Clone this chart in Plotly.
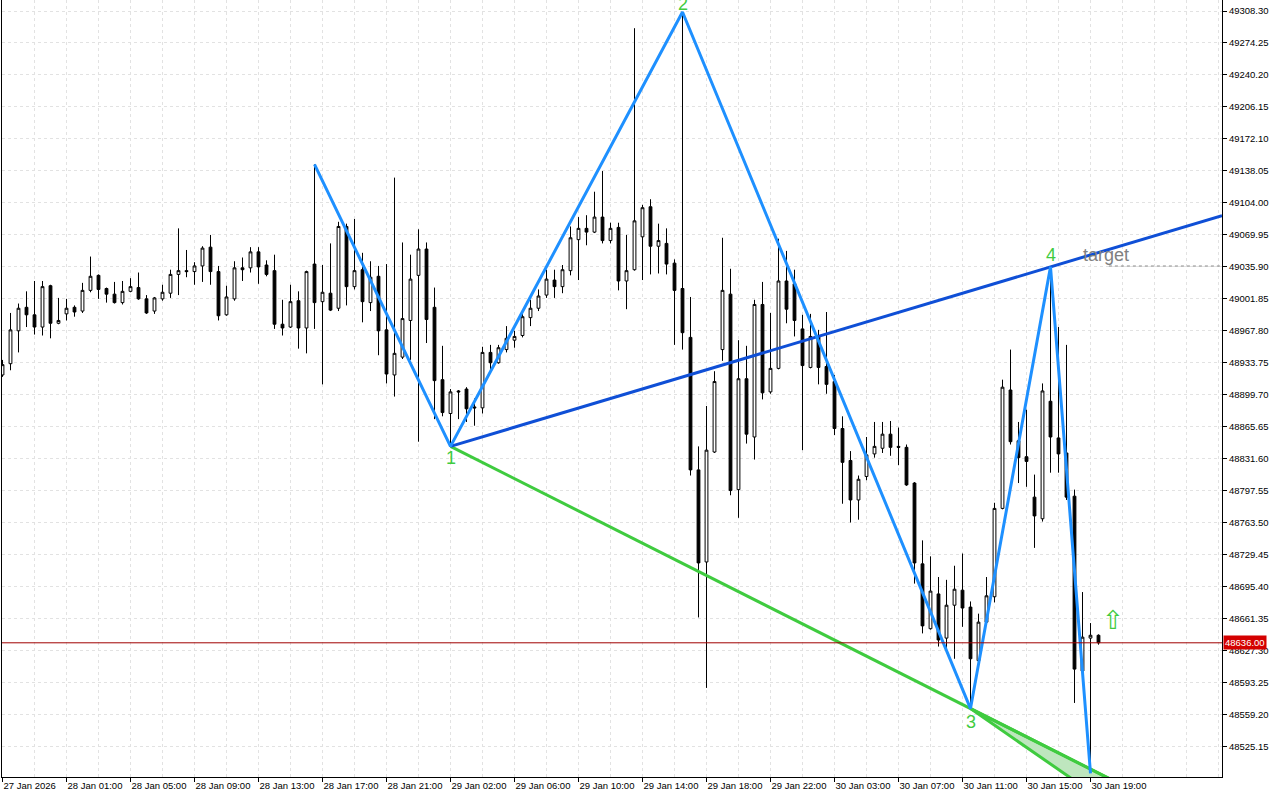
import plotly.graph_objects as go

# ---------------- data (US30, M30 bars) ----------------
open_ = [48921, 48933, 48968, 48993, 48985, 48972, 49016, 48976, 48986, 48993,
         48989, 49011, 49027, 49013, 49007, 48998, 49010, 49014, 49002, 48989,
         49002, 49008, 49028, 49032, 49031, 49037, 49057, 49031, 48985, 49002,
         49035, 49035, 49052, 49038, 49032, 48975, 48972, 49000, 48971, 49039,
         48999, 49008, 48992, 49079, 49015, 49033, 48998, 49026, 48969, 48921,
         48940, 48979, 49027, 49055, 48993, 48916, 48880, 48904, 48906, 48887,
         48886, 48945, 48934, 48948, 48958, 48963, 48982, 48992, 49006, 49022,
         49015, 49032, 49065, 49077, 49073, 49089, 49064, 49078, 49021, 49033,
         49068, 49100, 49058, 49061, 49040, 49013, 48961, 48820, 48722, 48839,
         48948, 49007, 48799, 48917, 48855, 48996, 48903, 48928, 49021, 49018,
         48970, 48929, 48962, 48930, 48914, 48864, 48830, 48788, 48813, 48837,
         48843, 48858, 48845, 48844, 48806, 48720, 48651, 48688, 48641, 48676,
         48692, 48674, 48617, 48658, 48685, 48779, 48905, 48851, 48834, 48791,
         48768, 48893, 48854, 48838, 48792, 48606, 48641, 48644]
high = [48937, 48987, 48997, 49010, 49021, 49021, 49017, 49003, 49002, 48995,
        49019, 49047, 49028, 49014, 49020, 49021, 49024, 49030, 49006, 49004,
        49017, 49033, 49077, 49054, 49041, 49058, 49070, 49037, 49016, 49042,
        49046, 49057, 49057, 49043, 49049, 49001, 49017, 49010, 49032, 49145,
        49038, 49061, 49084, 49082, 49087, 49051, 49042, 49037, 49039, 49131,
        49062, 49049, 49076, 49062, 49014, 48952, 48906, 48905, 48908, 48896,
        48951, 48953, 48953, 48973, 48968, 48987, 49001, 49012, 49033, 49033,
        49038, 49079, 49089, 49091, 49116, 49138, 49083, 49083, 49070, 49290,
        49102, 49108, 49082, 49077, 49044, 49307.2, 49004, 48845, 48888, 48925,
        49067, 49034, 48958, 48952, 49001, 49020, 48987, 49066, 49053, 49033,
        48985, 48986, 48969, 48988, 48921, 48877, 48840, 48814, 48855, 48871,
        48871, 48872, 48865, 48847, 48807, 48745, 48728, 48706, 48703, 48718,
        48731, 48680, 48667, 48706, 48785, 48916, 48948, 48871, 48884, 48815,
        48912, 49036, 48972, 48953, 48799, 48690, 48657, 48645]
low = [48919, 48926, 48945, 48972, 48964, 48963, 48960, 48975, 48979, 48983,
       48987, 49009, 49002, 48998, 48997, 48996, 49009, 49001, 48986, 48986,
       49000, 49003, 49006, 49025, 49017, 49020, 49017, 48979, 48984, 49000,
       49021, 49030, 49018, 49026, 48970, 48963, 48971, 48949, 48944, 48970,
       48911, 48989, 48989, 48995, 49012, 48977, 48989, 48942, 48912, 48898,
       48938, 48937, 48850, 48955, 48874, 48877, 48845, 48874, 48871, 48867,
       48880, 48927, 48933, 48945, 48950, 48961, 48973, 48989, 49003, 49003,
       49008, 49027, 49022, 49059, 49072, 49061, 49061, 49011, 48991, 49032,
       49022, 49028, 49029, 49028, 48953, 48948, 48814, 48663, 48588, 48838,
       48936, 48793, 48769, 48848, 48831, 48895, 48901, 48927, 48976, 48962,
       48841, 48928, 48911, 48901, 48857, 48784, 48764, 48767, 48809, 48833,
       48838, 48835, 48825, 48803, 48699, 48646, 48650, 48632, 48630, 48619,
       48653, 48566, 48616, 48657, 48679, 48778, 48847, 48806, 48802, 48737,
       48765, 48817, 48817, 48788, 48572, 48605, 48497, 48634]
close = [48932, 48969, 48992, 48985, 48972, 49015, 48976, 48979, 48992, 48988,
         49011, 49026, 49012, 49007, 48998, 49010, 49015, 49002, 48987, 49003,
         49009, 49028, 49032, 49031, 49037, 49056, 49031, 48984, 49004, 49035,
         49033, 49052, 49036, 49028, 48975, 48971, 48999, 48971, 49031, 48998,
         49009, 48990, 49079, 49015, 49032, 48999, 49025, 48968, 48922, 48944,
         48981, 49023, 49055, 48980, 48915, 48881, 48903, 48903, 48885, 48886,
         48945, 48934, 48950, 48960, 48962, 48983, 48992, 49005, 49023, 49015,
         49033, 49067, 49077, 49073, 49089, 49064, 49077, 49021, 49032, 49085,
         49099, 49058, 49064, 49039, 49011, 48966, 48820, 48721, 48841, 48914,
         49011, 48798, 48917, 48858, 48996, 48902, 48928, 49021, 48991, 48979,
         48931, 48962, 48929, 48911, 48864, 48828, 48788, 48810, 48836, 48845,
         48858, 48844, 48844, 48804, 48721, 48654, 48691, 48639, 48676, 48693,
         48673, 48619, 48658, 48686, 48779, 48908, 48850, 48833, 48829, 48771,
         48904, 48855, 48837, 48791, 48608, 48642, 48644, 48636]

bar_index = list(range(len(close)))

time_labels = ["27 Jan 2026", "28 Jan 01:00", "28 Jan 05:00", "28 Jan 09:00",
               "28 Jan 13:00", "28 Jan 17:00", "28 Jan 21:00", "29 Jan 02:00",
               "29 Jan 06:00", "29 Jan 10:00", "29 Jan 14:00", "29 Jan 18:00",
               "29 Jan 22:00", "30 Jan 03:00", "30 Jan 07:00", "30 Jan 11:00",
               "30 Jan 15:00", "30 Jan 19:00"]
time_label_bars = [0, 8, 16, 24, 32, 40, 48, 56, 64, 72, 80, 88, 96, 104, 112, 120, 128, 136]

price_ticks = [48525.15, 48559.20, 48593.25, 48627.30, 48661.35, 48695.40, 48729.45,
               48763.50, 48797.55, 48831.60, 48865.65, 48899.70, 48933.75, 48967.80,
               49001.85, 49035.90, 49069.95, 49104.00, 49138.05, 49172.10, 49206.15,
               49240.20, 49274.25, 49308.30]

# Wolfe wave pivots (bar index, which extreme)
wave_bars = [39, 56, 85, 121, 131, 136]
wave_prices = [high[39], low[56], high[85], low[121], high[131], low[136]]
wave_labels = ["1", "2", "3", "4"]

current_price = 48636.00
target_price = 49036.9
target_start_bar = 138.3
signal_bar = 138.8
signal_price = 48660.3

X_MIN, X_MAX = -0.0625, 152.4375
Y_MIN, Y_MAX = 48493.2, 49320.0

# ---------------- figure ----------------
fig = go.Figure()

fig.add_trace(go.Candlestick(
    x=bar_index, open=open_, high=high, low=low, close=close,
    increasing=dict(line=dict(color="black", width=1), fillcolor="white"),
    decreasing=dict(line=dict(color="black", width=1), fillcolor="black"),
    whiskerwidth=0, hoverinfo="skip", showlegend=False,
))

i1, p1 = wave_bars[1], wave_prices[1]
i2, p2 = wave_bars[2], wave_prices[2]
i3, p3 = wave_bars[3], wave_prices[3]
i4, p4 = wave_bars[4], wave_prices[4]
slope13 = (p3 - p1) / (i3 - i1)
slope14 = (p4 - p1) / (i4 - i1)
slope24 = (p4 - p2) / (i4 - i2)
x_end = 141

# sweet zone triangle
fig.add_trace(go.Scatter(
    x=[i3, x_end, x_end, i3],
    y=[p3, p3 + slope13 * (x_end - i3), p3 + slope24 * (x_end - i3), p3],
    mode="lines", fill="toself", fillcolor="#BEE6BE",
    line=dict(color="#3FCB3F", width=3), hoverinfo="skip", showlegend=False,
))
# 1-3 line
fig.add_trace(go.Scatter(
    x=[i1, x_end], y=[p1, p1 + slope13 * (x_end - i1)],
    mode="lines", line=dict(color="#3FCB3F", width=3),
    hoverinfo="skip", showlegend=False,
))
# 1-4 line
fig.add_trace(go.Scatter(
    x=[i1, X_MAX], y=[p1, p1 + slope14 * (X_MAX - i1)],
    mode="lines", line=dict(color="#0F4FD6", width=3),
    hoverinfo="skip", showlegend=False,
))
# zigzag
fig.add_trace(go.Scatter(
    x=wave_bars, y=wave_prices, mode="lines",
    line=dict(color="#1E90FF", width=3),
    hoverinfo="skip", showlegend=False,
))
# target dashed line
fig.add_trace(go.Scatter(
    x=[target_start_bar, X_MAX], y=[target_price, target_price], mode="lines",
    line=dict(color="#808080", width=1, dash="3px,3px"),
    hoverinfo="skip", showlegend=False,
))
# current price line
fig.add_trace(go.Scatter(
    x=[X_MIN, X_MAX], y=[current_price, current_price], mode="lines",
    line=dict(color="#A00000", width=1),
    hoverinfo="skip", showlegend=False,
))

annotations = []
label_shifts = [-12, 8, -13, 12]
for k, txt in enumerate(wave_labels):
    annotations.append(dict(
        x=wave_bars[k + 1], y=wave_prices[k + 1], text=txt, showarrow=False,
        yshift=label_shifts[k], xanchor="center", yanchor="middle",
        font=dict(family="Liberation Sans", size=18, color="#3FCB3F"),
    ))
annotations.append(dict(
    x=137.9, y=target_price, text="target", showarrow=False, yshift=11,
    xanchor="center", yanchor="middle",
    font=dict(family="Liberation Sans", size=18, color="#808080"),
))
annotations.append(dict(
    x=signal_bar, y=signal_price, text="⇧", showarrow=False,
    xanchor="center", yanchor="middle",
    font=dict(family="DejaVu Sans", size=26, color="#3FCB3F"),
))
annotations.append(dict(
    xref="paper", x=1, xshift=1, y=current_price, yref="y",
    text="48636.00", showarrow=False, xanchor="left", yanchor="middle",
    bgcolor="#D40000", borderpad=1,
    font=dict(family="Liberation Sans", size=9.5, color="white"),
))

grid_color = "#E2E2E2"
minor_vals = [v for v in range(4, 153, 4) if v not in time_label_bars]

fig.update_layout(
    width=1280, height=800,
    margin=dict(l=2, r=58, t=0, b=23),
    paper_bgcolor="white", plot_bgcolor="white",
    showlegend=False, hovermode=False, boxgap=0.5,
    annotations=annotations,
    xaxis=dict(
        range=[X_MIN, X_MAX], rangeslider=dict(visible=False),
        tickmode="array", tickvals=time_label_bars, ticktext=time_labels,
        ticks="outside", ticklen=4, tickcolor="black",
        ticklabelposition="outside right",
        tickfont=dict(family="Liberation Sans", size=9.5, color="black"),
        showgrid=True, gridcolor=grid_color, griddash="3px,3px", gridwidth=1,
        minor=dict(tickmode="array", tickvals=minor_vals, showgrid=True,
                   gridcolor=grid_color, griddash="3px,3px", ticks=""),
        showline=True, linecolor="black", linewidth=1, mirror=True,
        zeroline=False, fixedrange=True,
    ),
    yaxis=dict(
        range=[Y_MIN, Y_MAX], side="right",
        tickmode="array", tickvals=price_ticks,
        ticktext=[f"{v:.2f}" for v in price_ticks],
        ticks="outside", ticklen=4, tickcolor="black",
        tickfont=dict(family="Liberation Sans", size=9.5, color="black"),
        showgrid=True, gridcolor=grid_color, griddash="3px,3px", gridwidth=1,
        showline=True, linecolor="black", linewidth=1, mirror=True,
        zeroline=False, fixedrange=True,
    ),
)

fig.write_html(
    "out.html",
    config={"displayModeBar": False},
    post_script="document.body.style.margin='0';document.body.style.overflow='hidden';",
)
